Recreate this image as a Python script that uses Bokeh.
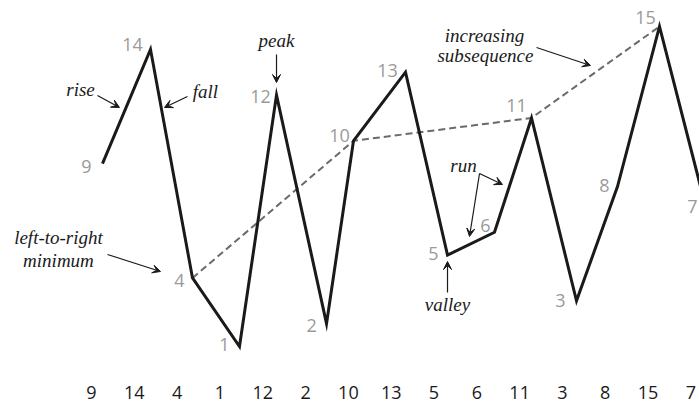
from bokeh.plotting import figure
from bokeh.models import Range1d, Arrow, VeeHead, ColumnDataSource
from bokeh.core.properties import value
from bokeh.embed import file_html
from bokeh.resources import INLINE

# ---- data ----
values = [9, 14, 4, 1, 12, 2, 10, 13, 5, 6, 11, 3, 8, 15, 7]
# hand-drawn x positions of the points (index units)
x_pos = [-0.105, 1.022, 2.008, 3.111, 3.980, 5.154, 5.787, 7.008, 7.994,
         9.097, 9.966, 11.022, 11.984, 12.970, 14.07]
# indices of the increasing subsequence 4, 10, 11, 15
increasing_idx = [2, 6, 10, 13]
bottom_labels = [str(v) for v in values]

# ---- layout / style ----
PX_X = 42.6    # pixels per x unit
PX_Y = 22.86   # pixels per y unit
W, H = 699, 405
# label offsets in screen pixels (dx right, dy down) of digit centre vs point
label_off = [(-16, 3), (-18, -4), (-13, 3), (-15, -2), (-16, 2), (-15, 2),
             (-14, -5), (-18, -1), (-14, -1), (-9, -6), (-15, -12), (-16, 0),
             (-13, -1), (-14, -8), (-14, -2)]
DIGIT_HALF = 6.5
TXT_UP = 7.0 / PX_Y   # empirical correction of the rendered text baseline

p = figure(width=W, height=H, output_backend="svg", toolbar_location=None,
           x_range=Range1d(-2.499, 13.909), y_range=Range1d(-1.579, 16.137),
           x_axis_type=None, y_axis_type=None, min_border=0)
p.min_border_left = p.min_border_right = p.min_border_top = p.min_border_bottom = 0
p.grid.visible = False
p.outline_line_color = None
p.background_fill_color = "white"
p.border_fill_color = "white"

INK = "#1a1a1a"
GRAY = "#9a9a9a"

# dashed increasing subsequence
p.line(x=[x_pos[i] for i in increasing_idx], y=[values[i] for i in increasing_idx],
       line_color="#6a6a6a", line_width=2, line_dash="7 4")

# main permutation line
src = ColumnDataSource(dict(x=x_pos, y=values))
p.line(x="x", y="y", source=src, line_color=INK, line_width=3, line_join="miter")

# grey value labels near points
lx = [x + dx / PX_X for x, (dx, dy) in zip(x_pos, label_off)]
ly = [v - (dy + DIGIT_HALF) / PX_Y + TXT_UP for v, (dx, dy) in zip(values, label_off)]
p.text(x=lx, y=ly, text=bottom_labels, text_font=value("Open Sans"),
       text_font_size="18px", text_color=GRAY, text_align="center",
       text_baseline="alphabetic")

# bottom row of the permutation
bx = [i * 1.005 - 0.363 for i in range(len(values))]
p.text(x=bx, y=[-1.47 + TXT_UP + 4.0 / PX_Y] * len(values), text=bottom_labels,
       text_font=value("Open Sans"), text_font_size="18px", text_color=INK,
       text_align="center", text_baseline="alphabetic")

# italic annotations
ann_text = ["rise", "fall", "peak", "increasing", "subsequence", "run",
            "valley", "left-to-right", "minimum"]
ann_x = [-0.621, 2.311, 3.980, 8.862, 8.885, 8.370, 7.994, -1.138, -1.138]
ann_y = [11.94, 11.85, 14.08, 14.30, 13.43, 8.613, 2.533, 5.464, 4.458]
p.text(x=ann_x, y=[y + TXT_UP for y in ann_y], text=ann_text,
       text_font=value("Liberation Serif"),
       text_font_style="italic", text_font_size="19px", text_color=INK,
       text_align="center", text_baseline="alphabetic")

arrows = [
    (-0.222, 11.98, 0.294, 11.457),   # rise
    (1.890, 11.94, 1.350, 11.457),    # fall
    (3.980, 13.775, 3.980, 12.549),   # peak
    (10.083, 14.081, 11.351, 13.294), # increasing subsequence
    (8.745, 8.570, 9.285, 8.089),     # run (upper)
    (8.745, 8.570, 8.510, 5.814),     # run (lower)
    (7.994, 3.364, 7.994, 4.720),     # valley
    (0.013, 5.026, 1.257, 4.283),     # left-to-right minimum
]
for xs, ys, xe, ye in arrows:
    p.add_layout(Arrow(end=VeeHead(size=8, fill_color=INK, line_color=INK, line_width=1),
                       x_start=xs, y_start=ys, x_end=xe, y_end=ye,
                       line_color=INK, line_width=1.2))

open("out.html", "w").write(file_html(p, INLINE))
